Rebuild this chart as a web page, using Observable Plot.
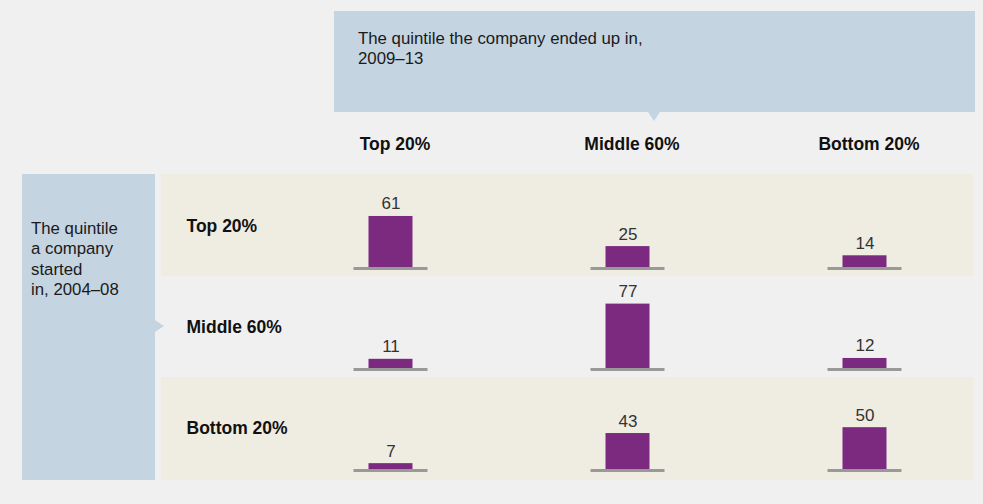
<!DOCTYPE html>
<html>
<head>
<meta charset="utf-8">
<script src="https://cdn.jsdelivr.net/npm/d3@7"></script>
<script src="https://cdn.jsdelivr.net/npm/@observablehq/plot@0.6"></script>
<style>
  html, body { margin: 0; padding: 0; background: #f0f0f0; }
  #wrap { position: relative; width: 983px; height: 504px; overflow: hidden; font-family: "Liberation Sans", Arial, sans-serif; color: #1a1a1a; }
  .box { position: absolute; background: #c4d4e0; }
  .beige { position: absolute; background: #efece2; }
  .note { position: absolute; font-size: 16.8px; line-height: 20.4px; color: #1a1a1a; }
  .tri { position: absolute; width: 0; height: 0; }
  #chart { position: absolute; left: 0; top: 0; }
</style>
</head>
<body>
<div id="wrap">
  <div class="box" style="left:334px;top:11px;width:641px;height:101px;"></div>
  <div class="tri" style="left:648px;top:112px;border-left:6px solid transparent;border-right:6px solid transparent;border-top:9px solid #c4d4e0;"></div>
  <div class="note" style="left:358px;top:29px;width:330px;">The quintile the company ended up in,<br>2009–13</div>

  <div class="box" style="left:22px;top:174px;width:133px;height:306px;"></div>
  <div class="tri" style="left:155px;top:320px;border-top:6px solid transparent;border-bottom:6px solid transparent;border-left:9px solid #c4d4e0;"></div>
  <div class="note" style="left:31px;top:219px;width:124px;">The quintile<br>a company<br>started<br>in, 2004–08</div>

  <div class="beige" style="left:161px;top:174px;width:812px;height:102px;"></div>
  <div class="beige" style="left:161px;top:377px;width:812px;height:103px;"></div>

  <div id="chart"></div>
</div>
<script>
// Quintile the company started in (rows), 2004–08
const startQuintiles = ["Top 20%", "Middle 60%", "Bottom 20%"];
// Quintile the company ended up in (columns), 2009–13
const endQuintiles = ["Top 20%", "Middle 60%", "Bottom 20%"];
// Share of companies (%), one array per starting quintile, ordered by ending quintile
const fromTop = [61, 25, 14];
const fromMiddle = [11, 77, 12];
const fromBottom = [7, 43, 50];

const rowsValues = [fromTop, fromMiddle, fromBottom];
const data = [];
startQuintiles.forEach((s, i) => {
  endQuintiles.forEach((e, j) => {
    data.push({start: s, end: e, value: rowsValues[i][j]});
  });
});

const chart = Plot.plot({
  width: 983,
  height: 504,
  marginLeft: 272,
  marginRight: 0,
  marginTop: 174,
  marginBottom: 25,
  style: {background: "transparent", fontFamily: "'Liberation Sans', Arial, sans-serif", color: "#1a1a1a", overflow: "visible"},
  fx: {domain: endQuintiles, padding: 0, label: null},
  fy: {domain: startQuintiles, padding: 0, label: null},
  y: {domain: [0, 110], insetBottom: 9, axis: null},
  marks: [
    Plot.barY(data, {fx: "end", fy: "start", y: "value", fill: "#7b2a80", insetLeft: 96.5, insetRight: 96.5}),
    Plot.ruleY(data, {fx: "end", fy: "start", y: 0, stroke: "#999999", strokeWidth: 3, insetLeft: 81.5, insetRight: 81.5, dy: 1}),
    Plot.text(data, {fx: "end", fy: "start", y: "value", text: d => String(d.value), lineAnchor: "bottom", dy: -7, fontSize: 17, fill: "#333333"}),
    Plot.axisFx({anchor: "top", tickSize: 0, tickPadding: 26, fontSize: 17.5, fontWeight: "bold", label: null, dx: 4, fill: "#111"}),
    Plot.axisFy({anchor: "left", tickSize: 0, tickPadding: 86, textAnchor: "start", fontSize: 17.5, fontWeight: "bold", label: null, fill: "#111"})
  ]
});
document.getElementById("chart").appendChild(chart);
</script>
</body>
</html>
